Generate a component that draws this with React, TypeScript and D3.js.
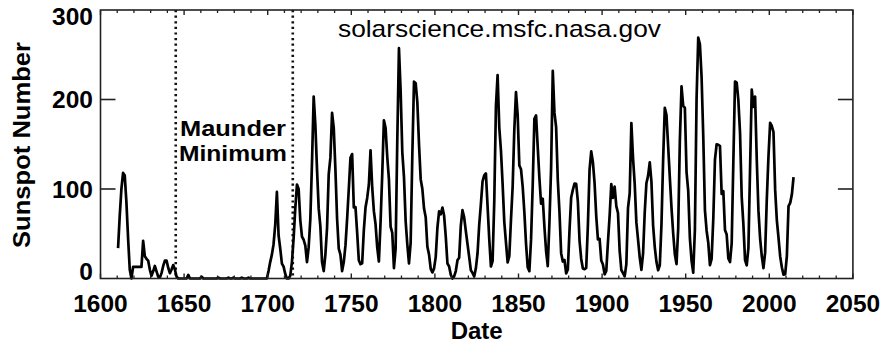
import React from "react";
import * as d3 from "d3";

// yearly sunspot numbers (plotted at mid-year)
const earlyStart = 1610;
const earlyValues = [
  34, 70, 100, 118, 115, 85, 45, 10, 0, 13, 13, 13, 13, 13, 13, 42, 25, 22, 20, 10,
  3, 8, 14, 8, 2, 1, 6, 14, 20, 20, 12, 6, 10, 15, 10, 2, 0, 0, 0, 0,
  0, 0, 4, 0, 0, 0, 0, 0, 0, 0, 2, 0, 0, 0, 0, 0, 0, 0, 0, 0,
  1, 0, 0, 0, 0, 0, 1, 0, 0, 1, 0, 0, 0, 0, 1, 0, 0, 0, 1, 0,
  0, 0, 0, 0, 0, 0, 0, 0, 0, 0
];

const modernStart = 1700;
const modernValues = [
  8.3, 18.3, 26.7, 38.3, 60.0, 96.7, 48.3, 33.3, 16.7, 13.3,
  5.0, 0.0, 0.0, 3.3, 18.3, 45.0, 78.3, 105.0, 100.0, 65.0,
  46.7, 43.3, 36.7, 18.3, 35.0, 66.7, 130.0, 203.3, 171.7, 121.7,
  78.3, 58.3, 18.3, 8.3, 26.7, 56.7, 116.7, 135.0, 185.0, 168.3,
  121.7, 66.7, 33.3, 26.7, 8.3, 18.3, 36.7, 66.7, 100.0, 134.8,
  139.0, 79.5, 79.7, 51.2, 20.3, 16.0, 17.0, 54.0, 79.3, 90.0,
  104.8, 143.2, 102.0, 75.2, 60.7, 34.8, 19.0, 63.0, 116.3, 176.8,
  168.0, 136.0, 110.8, 58.0, 51.0, 11.7, 33.0, 154.2, 257.3, 209.8,
  141.3, 113.5, 64.2, 38.0, 17.0, 40.2, 138.2, 220.0, 218.2, 196.8,
  149.8, 111.0, 100.0, 78.2, 68.3, 35.5, 26.7, 10.7, 6.8, 11.3,
  24.2, 56.7, 75.0, 71.8, 79.2, 70.3, 46.8, 16.8, 13.5, 4.2,
  0.0, 2.3, 8.3, 20.3, 23.2, 59.0, 76.3, 68.3, 52.9, 38.5,
  24.2, 9.2, 6.3, 2.2, 11.4, 28.2, 59.9, 83.0, 108.5, 115.2,
  117.4, 80.8, 44.3, 13.4, 19.5, 85.8, 192.7, 227.3, 168.7, 143.0,
  105.5, 63.3, 40.3, 18.1, 25.1, 65.8, 102.7, 166.3, 208.3, 182.5,
  126.3, 122.0, 102.7, 74.1, 39.0, 12.7, 8.2, 43.4, 104.4, 178.3,
  182.2, 146.6, 112.1, 83.5, 89.2, 57.8, 30.7, 13.9, 62.8, 123.6,
  232.0, 185.3, 169.2, 110.1, 74.5, 28.3, 18.9, 20.7, 5.7, 10.0,
  53.7, 90.5, 99.0, 106.1, 105.8, 86.3, 42.4, 21.8, 11.2, 10.4,
  11.8, 59.5, 121.7, 142.0, 130.0, 106.6, 69.4, 43.8, 44.4, 20.2,
  15.7, 4.6, 8.5, 40.8, 70.1, 105.5, 90.1, 102.8, 80.9, 73.2,
  30.9, 9.5, 6.0, 2.4, 16.1, 79.0, 95.0, 173.6, 134.6, 105.7,
  62.7, 43.5, 23.7, 9.7, 27.9, 74.0, 106.5, 114.7, 129.7, 108.2,
  59.4, 35.1, 18.6, 9.2, 14.6, 60.2, 132.8, 190.6, 182.6, 148.0,
  113.0, 79.2, 50.8, 27.1, 16.1, 55.3, 154.3, 214.7, 193.0, 190.7,
  118.9, 98.3, 45.0, 20.1, 6.6, 54.2, 200.7, 269.3, 261.7, 225.1,
  159.0, 76.4, 53.4, 39.9, 15.0, 22.0, 66.8, 132.9, 150.0, 149.4,
  148.0, 94.4, 97.6, 54.1, 49.2, 22.5, 18.4, 39.3, 131.0, 220.1,
  218.9, 198.9, 162.4, 91.0, 60.5, 20.6, 14.8, 33.9, 123.0, 211.1,
  191.8, 203.3, 133.0, 76.1, 44.9, 25.1, 11.6, 28.9, 88.3, 136.3,
  173.9, 170.4, 163.6, 99.3, 65.3, 45.8, 24.7, 12.6, 4.2, 4.8,
  24.9, 80.8, 84.5, 94.0, 113.3
];

const xTicks = [1600, 1650, 1700, 1750, 1800, 1850, 1900, 1950, 2000, 2050];
const yTicks = [0, 100, 200, 300];
const maunderBounds = [1645, 1715];

const W = 884;
const H = 343;
const left = 100.5;
const right = 852.9;
const top = 10;
const bottom = 278.5;

type Pt = { year: number; value: number };

const points: Pt[] = [
  ...earlyValues.map((v, i) => ({ year: earlyStart + i + 0.5, value: v })),
  ...modernValues.map((v, i) => ({ year: modernStart + i + 0.5, value: v }))
];

export default function App() {
  const x = d3.scaleLinear().domain([1600, 2050]).range([left, right]);
  const y = d3.scaleLinear().domain([0, 300]).range([bottom, top]);

  const line = d3
    .line<Pt>()
    .x((d) => x(d.year))
    .y((d) => y(d.value));

  const minor = x.ticks(45).filter((t) => !xTicks.includes(t));
  const font = "'Liberation Sans', Arial, Helvetica, sans-serif";

  return (
    <svg
      width={W}
      height={H}
      style={{ position: "absolute", left: 0, top: 0, background: "#fff" }}
      fontFamily={font}
    >
      {/* maunder minimum bounds */}
      {maunderBounds.map((b) => (
        <line
          key={b}
          x1={x(b)}
          x2={x(b)}
          y1={top}
          y2={bottom}
          stroke="#111"
          strokeWidth={2.6}
          strokeDasharray="2.2,3.4"
        />
      ))}

      <path
        d={line(points) || ""}
        fill="none"
        stroke="#000"
        strokeWidth={2.7}
        strokeLinejoin="round"
      />

      {/* frame */}
      <rect
        x={left}
        y={top}
        width={right - left}
        height={bottom - top}
        fill="none"
        stroke="#222"
        strokeWidth={1.6}
      />

      {/* x ticks */}
      {xTicks.map((t) => (
        <g key={t}>
          <line x1={x(t)} x2={x(t)} y1={bottom} y2={bottom - 5} stroke="#222" strokeWidth={1.4} />
          <line x1={x(t)} x2={x(t)} y1={top} y2={top + 5} stroke="#222" strokeWidth={1.4} />
          <text
            x={x(t)}
            y={311.5}
            textAnchor="middle"
            fontSize={24.5}
            fontWeight="bold"
          >
            {t}
          </text>
        </g>
      ))}
      {minor.map((t) => (
        <g key={"m" + t}>
          <line x1={x(t)} x2={x(t)} y1={bottom} y2={bottom - 3} stroke="#222" strokeWidth={1.3} />
          <line x1={x(t)} x2={x(t)} y1={top} y2={top + 3} stroke="#222" strokeWidth={1.3} />
        </g>
      ))}

      {/* y ticks */}
      {yTicks.map((t) => (
        <g key={t}>
          {t > 0 && t < 300 && (
            <>
              <line x1={left} x2={left + 15} y1={y(t)} y2={y(t)} stroke="#222" strokeWidth={1.6} />
              <line x1={right} x2={right - 15} y1={y(t)} y2={y(t)} stroke="#222" strokeWidth={1.6} />
            </>
          )}
          <text
            x={93}
            y={Math.min(Math.max(y(t), 16), 271)}
            dominantBaseline="central"
            textAnchor="end"
            fontSize={24.5}
            fontWeight="bold"
          >
            {t}
          </text>
        </g>
      ))}

      <text
        transform={`translate(30,145) rotate(-90)`}
        textAnchor="middle"
        fontSize={24}
        fontWeight="bold"
        textLength={206}
        lengthAdjust="spacingAndGlyphs"
      >
        Sunspot Number
      </text>
      <text x={(left + right) / 2} y={339} textAnchor="middle" fontSize={24} fontWeight="bold">
        Date
      </text>

      <text x={338} y={36.5} fontSize={24} textLength={323} lengthAdjust="spacingAndGlyphs">
        solarscience.msfc.nasa.gov
      </text>

      <text x={180} y={135.5} fontSize={22} fontWeight="bold" textLength={106} lengthAdjust="spacingAndGlyphs">
        Maunder
      </text>
      <text x={179} y={161} fontSize={22} fontWeight="bold" textLength={108} lengthAdjust="spacingAndGlyphs">
        Minimum
      </text>
    </svg>
  );
}
